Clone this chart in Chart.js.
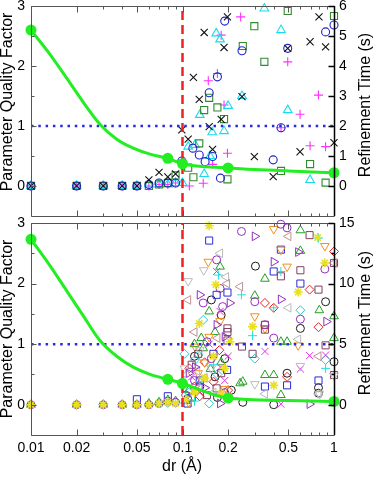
<!DOCTYPE html>
<html><head><meta charset="utf-8">
<script src="https://cdn.jsdelivr.net/npm/chart.js@4.4.1/dist/chart.umd.min.js"></script>
<style>
html,body{margin:0;padding:0;background:#fff;}
body{width:374px;height:477px;position:relative;overflow:hidden;}
canvas{position:absolute;left:0;}
#c1{top:0;} #c2{top:215px;}
</style></head><body>
<canvas id="c1" width="374" height="222"></canvas>
<canvas id="c2" width="374" height="262"></canvas>
<script>
// ===== axis ticks / labels =====
const xLabelValues = [0.01,0.02,0.05,0.1,0.2,0.5,1];
const xLabelText = ['0.01','0.02','0.05','0.1','0.2','0.5','1'];
const xTickMarks = [0.01,0.02,0.03,0.04,0.05,0.06,0.07,0.08,0.09,0.1,0.2,0.3,0.4,0.5,0.6,0.7,0.8,0.9,1];
const leftTicks = [0,1,2,3];
const leftMinorTicks = [0.5,1.5,2.5];
const topRightTicks = [0,1,2,3,4,5,6];
const botRightTicks = [0,5,10,15];
const botRightMinor = [2.5,7.5,12.5];

// ===== reference lines =====
const redLineX = [0.1,0.1];
const redLineQ = [-0.5,3];
const blueLineX = [0.01,1];
const blueLineQ = [1,1];

// ===== green quality factor curve =====
const fitX = [0.01,0.0133,0.0172,0.0221,0.0285,0.0368,0.0473,0.061,0.08,0.1,0.2,0.5,1];
const topFitQ = [2.6,2.2,1.8,1.4,1.03,0.78,0.63,0.53,0.46,0.37,0.3,0.25,0.22];
const botFitQ = [2.73,2.3,1.88,1.47,1.06,0.8,0.62,0.5,0.42,0.35,0.11,0.07,0.055];
const markX = [0.01,0.08,0.1,0.2,1];
const topMarkQ = [2.6,0.46,0.37,0.3,0.22];
const botMarkQ = [2.73,0.42,0.35,0.11,0.055];

// ===== top panel refinement times (s) =====
const topCrossX = [0.01,0.02,0.03,0.04,0.05,0.06,0.07,0.08,0.09,0.099,0.109,0.118,0.129,0.139,0.150,0.158,0.180,0.188,0.198,0.247,0.298,0.397,0.495,0.597,0.695,0.796,0.880,1.0];
const topCrossT = [0,0,0,0,0,0.2,0.45,0.3,0.4,1.87,1.56,3.62,2.89,5.12,1.98,1.22,2.22,4.62,5.64,2.98,0.98,0.31,4.59,1.14,4.81,5.64,4.64,1.44];
const topCircX = [0.01,0.02,0.03,0.04,0.05,0.06,0.07,0.08,0.09,0.099,0.117,0.129,0.141,0.150,0.158,0.170,0.178,0.190,0.247,0.397,0.447,0.495,0.880,1.0];
const topCircT = [0,0,0,0,0,0.05,0.1,0.1,0.1,0.83,1.26,1.03,0.81,3.11,0.98,3.64,0.26,5.5,4.51,0.87,1.94,4.59,5.14,5.37];
const topSqX = [0.01,0.02,0.03,0.04,0.05,0.06,0.07,0.08,0.09,0.109,0.118,0.129,0.139,0.150,0.170,0.188,0.198,0.250,0.298,0.347,0.447,0.495,0.695,0.880,1.0];
const topSqT = [0,0,0,0,0,0,0.05,0.1,0.35,0.61,0.29,1.42,2.53,2.94,2.62,2.23,0.22,4.67,5.33,4.14,0.5,5.84,0.73,0.11,5.67];
const topTriX = [0.01,0.02,0.03,0.04,0.05,0.06,0.07,0.08,0.09,0.100,0.109,0.121,0.130,0.139,0.152,0.157,0.167,0.177,0.188,0.200,0.247,0.347,0.447,0.495,0.695];
const topTriT = [0,0,0,0,0,0.05,0.05,0.05,0.1,0.1,1.31,1.37,2.37,0.4,1.0,1.79,5.09,4.89,1.83,2.67,3.0,5.92,5.2,2.53,0.2];
const topPlusX = [0.01,0.02,0.03,0.04,0.05,0.06,0.07,0.08,0.09,0.111,0.137,0.148,0.158,0.170,0.180,0.188,0.198,0.242,0.447,0.495,0.597,0.695,0.790,0.880];
const topPlusT = [0,0,0,0,0,0,0.05,0.05,0.1,0,0.09,3.51,0.72,3.75,5.03,2.7,1.09,5.64,1.94,4.14,2.39,1.34,3.03,1.31];

// ===== bottom panel refinement times (s) =====
const bBlackCircX = [0.108,0.13,0.155,0.164,0.18,0.21,0.25,0.303,0.4,0.49,0.6,0.79,0.79,0.88,1.0,0.12,0.17,0.19];
const bBlackCircT = [0.5,1.5,8.65,2.3,7.4,1.2,0.2,11.44,0.0,2.6,6.3,1.4,0.95,8.5,3.55,4.0,0.6,3.8];
const bBlueSqX = [0.05,0.08,0.108,0.15,0.168,0.198,0.197,0.35,0.4,0.446,0.49,0.6,0.79,0.13,0.16,0.115];
const bBlueSqT = [0.45,0.7,0.1,13.55,9.07,9.26,2.87,1.5,11.0,12.8,1.6,10.0,2.0,2.0,4.2,0.6];
const bGreenTriX = [0.01,0.02,0.03,0.04,0.05,0.06,0.07,0.08,0.09,0.133,0.137,0.15,0.153,0.164,0.177,0.24,0.25,0.3,0.35,0.35,0.4,0.446,0.446,0.49,0.6,0.6,0.8,1.0,1.0,0.11,0.12,0.18,0.105];
const bGreenTriT = [0,0,0,0,0,0.1,0.2,0.4,0.3,5.5,4.66,7.7,2.95,6.0,11.4,1.77,1.9,9.0,10.4,2.45,2.45,5.2,0.8,5.2,14.4,12.7,7.8,7.3,5.5,1.2,5.0,3.5,0.3];
const bRedDiaX = [0.111,0.12,0.14,0.2,0.35,0.4,0.49,0.69,0.79,1.0,0.13,0.16,0.175];
const bRedDiaT = [3.0,1.5,3.5,1.2,8.4,8.0,2.3,9.5,6.4,12.65,0.7,1.9,4.5];
const bCyanDiaX = [0.01,0.02,0.03,0.04,0.05,0.06,0.07,0.08,0.09,0.103,0.121,0.127,0.137,0.15,0.3,0.6,0.88,0.17,0.11];
const bCyanDiaT = [0,0,0,0,0,0.05,0.1,0.15,0.2,4.2,3.7,4.1,7.0,0.1,3.8,7.8,3.7,2.5,1.0];
const bMagCrossX = [0.13,0.168,0.177,0.178,0.2,0.35,0.446,0.6,0.69,0.88,0.115,0.15,0.19];
const bMagCrossT = [1.0,11.0,7.7,3.1,4.0,4.4,0.05,2.95,4.05,4.1,2.3,5.0,2.0];
const bYellowStarX = [0.01,0.02,0.03,0.04,0.05,0.06,0.07,0.08,0.09,0.12,0.129,0.14,0.15,0.166,0.18,0.206,0.29,0.4,0.58,0.78,0.87,0.105,0.16,0.19];
const bYellowStarT = [0,0,0,0,0,0,0.1,0.2,0.1,1.0,6.7,2.2,14.77,9.9,0.9,5.2,6.45,1.6,9.3,13.8,11.7,0.4,4.0,3.0];
const bPurpleCircX = [0.01,0.02,0.03,0.04,0.05,0.06,0.07,0.08,0.09,0.137,0.155,0.168,0.177,0.184,0.245,0.3,0.35,0.4,0.446,0.49,0.6,0.87,0.12,0.145,0.19,0.105];
const bPurpleCircT = [0,0,0,0,0,0,0.1,0.3,0.2,8.4,3.8,11.96,9.6,8.1,14.3,8.5,6.6,5.5,14.9,14.6,7.06,11.2,2.0,5.2,1.0,0.8];
const bOrangeDownX = [0.121,0.127,0.148,0.15,0.177,0.3,0.35,0.4,0.446,0.49,0.58,0.87,0.11,0.14,0.19];
const bOrangeDownT = [4.8,2.6,11.8,5.6,6.9,7.3,6.3,14.5,12.8,11.4,4.9,13.1,0.2,3.5,1.3];
const bBrownSqX = [0.127,0.168,0.198,0.198,0.198,0.247,0.29,0.35,0.35,0.446,0.6,0.69,0.79,0.88,1.0,1.0,0.115,0.145,0.18];
const bBrownSqT = [4.2,1.35,6.3,6.0,5.3,4.8,4.2,6.6,6.2,10.6,11.1,14.0,9.5,4.9,11.7,2.45,3.3,0.8,2.6];
const bGrayLeftX = [0.1,0.177,0.194,0.35,0.5,0.58,0.79,0.125,0.16];
const bGrayLeftT = [2.0,12.5,10.55,0.9,8.0,5.4,0.9,2.8,1.0];
const bRosyLeftX = [0.109,0.14,0.197,0.24,0.5,0.79,1.0,0.12,0.17];
const bRosyLeftT = [8.65,2.2,10.0,9.75,13.9,4.0,11.7,6.0,5.5];
const bGrayDownX = [0.103,0.109,0.138,0.3,0.6,0.8,1.0,0.13,0.155];
const bGrayDownT = [3.0,10.2,11.1,1.7,3.2,0.9,2.4,4.5,3.0];
const bPurpleRightX = [0.121,0.13,0.168,0.177,0.205,0.3,0.4,0.446,0.58,0.69,0.89,0.14,0.19,0.11];
const bPurpleRightT = [3.1,9.07,6.6,0.1,8.4,13.9,11.8,8.7,12.6,0.05,6.86,1.4,5.6,2.6];
const bCyanPlusX = [0.13,0.173,0.245,0.29,0.4,0.446,0.79,0.88,0.16,0.12];
const bCyanPlusT = [1.9,10.7,9.07,5.7,8.0,11.0,13.75,3.0,3.3,0.3];

// ===== helpers =====
const FONT = '"Liberation Sans", Arial, Helvetica, sans-serif';
function pts(xs, ys){ return xs.map((x,i)=>({x:x, y:ys[i]})); }
function sc(xs, ys, style, color, r, rot, bw){
  return {data: pts(xs,ys), yAxisID:'y2', showLine:false, clip:false,
    pointStyle: style, pointRadius: r, pointHoverRadius: r, pointRotation: rot||0,
    pointBorderColor: color, pointBackgroundColor:'rgba(0,0,0,0)', pointBorderWidth: bw||1};
}
function lineSets(fitQ, markQ){
  return [
    {data: pts(markX, markQ), yAxisID:'y', showLine:false, clip:false, pointStyle:'circle',
     pointRadius:5.5, pointHoverRadius:5.5, pointBackgroundColor:'#22ee22', pointBorderColor:'#22ee22', pointBorderWidth:0},
    {data: pts(fitX, fitQ), yAxisID:'y', showLine:true, clip:false, borderColor:'#22ee22', borderWidth:3,
     pointRadius:0, cubicInterpolationMode:'monotone', fill:false},
    {data: pts(redLineX, redLineQ), yAxisID:'y', showLine:true, clip:false, borderColor:'#ee2222', borderWidth:2.5,
     borderDash:[9,5], pointRadius:0, fill:false},
    {data: pts(blueLineX, blueLineQ), yAxisID:'y', showLine:true, clip:false, borderColor:'#2a2ae0', borderWidth:2.5,
     borderDash:[2.5,4.8], pointRadius:0, fill:false}
  ];
}

const axisDecor = {
  id:'axisDecor',
  afterDatasetsDraw(chart, args, o){
    const {ctx, chartArea:a} = chart;
    const sx = chart.scales.x, sy = chart.scales.y, sr = chart.scales.y2;
    const L = Math.round(a.left)+0.5, R = Math.round(a.right)+0.5, T = Math.round(a.top)+0.5, B = Math.round(a.bottom)+0.5;
    ctx.save();
    ctx.lineWidth = 1; ctx.strokeStyle = '#555';
    ctx.beginPath();
    ctx.moveTo(R,T); ctx.lineTo(L,T); ctx.lineTo(L,B); ctx.lineTo(R,B);
    xTickMarks.forEach(v=>{
      const p = Math.round(sx.getPixelForValue(v))+0.5;
      const len = xLabelValues.includes(v) ? 6 : 3;
      ctx.moveTo(p,T); ctx.lineTo(p,T+len); ctx.moveTo(p,B); ctx.lineTo(p,B-len);
    });
    leftTicks.forEach(v=>{ const p = Math.round(sy.getPixelForValue(v))+0.5; ctx.moveTo(L,p); ctx.lineTo(L+5,p); });
    leftMinorTicks.forEach(v=>{ const p = Math.round(sy.getPixelForValue(v))+0.5; ctx.moveTo(L,p); ctx.lineTo(L+3,p); });
    ctx.stroke();
    ctx.strokeStyle = '#000'; ctx.lineWidth = 1.5;
    ctx.beginPath();
    ctx.moveTo(R,a.top); ctx.lineTo(R,a.bottom);
    o.rightMajor.forEach(v=>{ const p = Math.round(sr.getPixelForValue(v))+0.5; ctx.moveTo(R,p); ctx.lineTo(R-6,p); });
    o.rightMinor.forEach(v=>{ const p = Math.round(sr.getPixelForValue(v))+0.5; ctx.moveTo(R,p); ctx.lineTo(R-3,p); });
    ctx.stroke();
    ctx.restore();
  },
  afterDraw(chart, args, o){
    const ctx = chart.ctx;
    ctx.save();
    ctx.fillStyle = '#000';
    ctx.font = '16px ' + FONT;
    ctx.textAlign = 'center'; ctx.textBaseline = 'middle';
    o.titles.forEach(t=>{
      ctx.save(); ctx.translate(t.x, t.y); ctx.rotate(t.rot); ctx.fillText(t.text, 0, 0); ctx.restore();
    });
    ctx.restore();
  }
};

function makeOptions(cfg){
  const tickFont = {family: FONT, size: 14};
  return {
    responsive:false, animation:false, events:[],
    layout:{padding:{top:cfg.padTop, bottom:cfg.padBottom, left:0, right:0}},
    plugins:{legend:{display:false}, tooltip:{enabled:false}, axisDecor: cfg.decor},
    scales:{
      x:{type:'logarithmic', min:0.01, max:1, display:cfg.showX, position:'bottom',
        grid:{display:false, drawTicks:false}, border:{display:false},
        ticks:{display:cfg.showX, padding:5, color:'#000', font:tickFont, autoSkip:false, maxRotation:0, minRotation:0,
          callback:(v,i)=>xLabelText[i]},
        afterBuildTicks:(s)=>{ s.ticks = xLabelValues.map(v=>({value:v})); },
        afterFit:(s)=>{ s.height = cfg.xHeight; s.paddingLeft = 0; s.paddingRight = 0; }},
      y:{type:'linear', position:'left', min:-0.5, max:3,
        grid:{display:false, drawTicks:false}, border:{display:false},
        ticks:{padding:6, color:'#000', font:tickFont, autoSkip:false},
        afterBuildTicks:(s)=>{ s.ticks = leftTicks.map(v=>({value:v})); },
        afterFit:(s)=>{ s.width = 31; s.paddingTop = 0; s.paddingBottom = 0; }},
      y2:{type:'linear', position:'right', min:cfg.rMin, max:cfg.rMax,
        grid:{display:false, drawTicks:false}, border:{display:false},
        ticks:{padding:5, color:'#000', font:tickFont, autoSkip:false},
        afterBuildTicks:(s)=>{ s.ticks = cfg.rTicks.map(v=>({value:v})); },
        afterFit:(s)=>{ s.width = 40; s.paddingTop = 0; s.paddingBottom = 0; }}
    }
  };
}

// ===== top chart =====
new Chart(document.getElementById('c1'), {
  type:'scatter',
  data:{datasets: lineSets(topFitQ, topMarkQ).concat([
    sc(topCrossX, topCrossT, 'crossRot', '#111111', 5, 0, 1.1),
    sc(topCircX, topCircT, 'circle', '#2222cc', 4, 0, 1.1),
    sc(topSqX, topSqT, 'rect', '#2e8b2e', 5, 0, 1.1),
    sc(topTriX, topTriT, 'triangle', '#18dcec', 5, 0, 1.1),
    sc(topPlusX, topPlusT, 'cross', '#ff30ff', 4.5, 0, 1.1)
  ])},
  options: makeOptions({padTop:6, padBottom:5, showX:false, xHeight:0, rMin:-1, rMax:6, rTicks:topRightTicks,
    decor:{rightMajor:topRightTicks, rightMinor:[],
      titles:[{text:'Parameter Quality Factor', x:8, y:102, rot:-Math.PI/2},
              {text:'Refinement Time (s)', x:366, y:105, rot:-Math.PI/2}]}}),
  plugins:[axisDecor]
});

// ===== bottom chart =====
new Chart(document.getElementById('c2'), {
  type:'scatter',
  data:{datasets: lineSets(botFitQ, botMarkQ).concat([
    sc(bBlackCircX, bBlackCircT, 'circle', '#1a1a1a', 4),
    sc(bBlueSqX, bBlueSqT, 'rect', '#2a2ad8', 5),
    sc(bGreenTriX, bGreenTriT, 'triangle', '#22a022', 5),
    sc(bRedDiaX, bRedDiaT, 'rectRot', '#e82020', 4.5),
    sc(bCyanDiaX, bCyanDiaT, 'rectRot', '#30c8c8', 4.5),
    sc(bMagCrossX, bMagCrossT, 'crossRot', '#e830e8', 5),
    sc(bOrangeDownX, bOrangeDownT, 'triangle', '#f09020', 5, 180),
    sc(bBrownSqX, bBrownSqT, 'rect', '#804060', 5),
    sc(bGrayLeftX, bGrayLeftT, 'triangle', '#b8b8b8', 5, 270),
    sc(bRosyLeftX, bRosyLeftT, 'triangle', '#c09090', 5, 270),
    sc(bGrayDownX, bGrayDownT, 'triangle', '#bbbbbb', 5, 180),
    sc(bPurpleRightX, bPurpleRightT, 'triangle', '#9030c0', 5, 90),
    sc(bCyanPlusX, bCyanPlusT, 'cross', '#20e0e0', 4.5),
    sc(bPurpleCircX, bPurpleCircT, 'circle', '#9030c0', 4),
    sc(bYellowStarX, bYellowStarT, 'star', '#e8e020', 4.5, 0, 1.6)
  ].reverse())},
  options: makeOptions({padTop:8, padBottom:0, showX:true, xHeight:42, rMin:-2.5, rMax:15, rTicks:botRightTicks,
    decor:{rightMajor:botRightTicks, rightMinor:botRightMinor,
      titles:[{text:'Parameter Quality Factor', x:8, y:114, rot:-Math.PI/2},
              {text:'Refinement Time (s)', x:366, y:108, rot:-Math.PI/2},
              {text:'dr (\u00C5)', x:182, y:252, rot:0}]}}),
  plugins:[axisDecor]
});
</script>
</body></html>
